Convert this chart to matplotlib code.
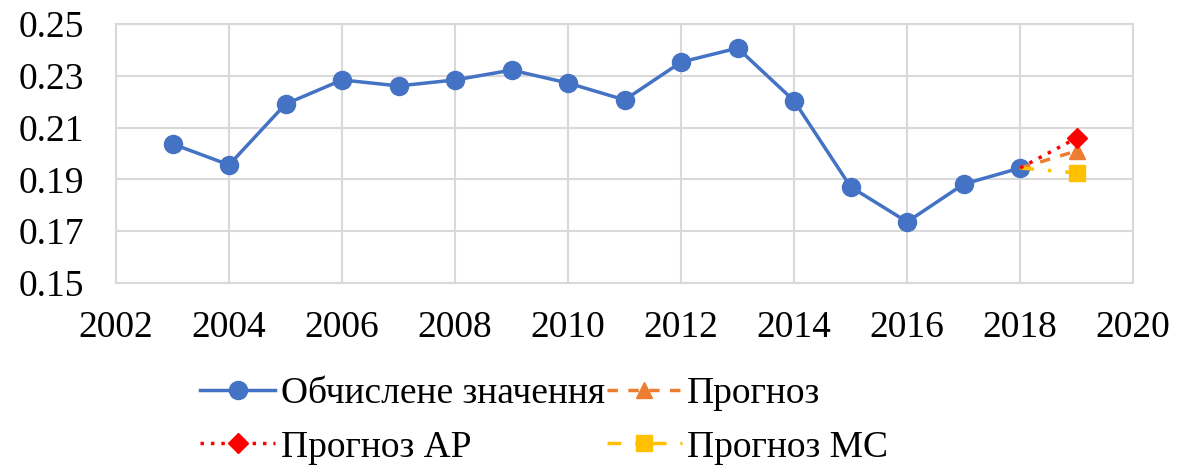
import matplotlib.pyplot as plt

# Computed values and forecasts
years = [2003, 2004, 2005, 2006, 2007, 2008, 2009, 2010, 2011, 2012,
         2013, 2014, 2015, 2016, 2017, 2018]
values = [0.2037, 0.1956, 0.2191, 0.2284, 0.2261, 0.2284, 0.2322, 0.2272,
          0.2207, 0.2353, 0.2407, 0.2203, 0.1871, 0.1736, 0.1882, 0.1944]
fc_years = [2018, 2019]
forecast = [0.1944, 0.2010]
forecast_ar = [0.1944, 0.2060]
forecast_mc = [0.1944, 0.1925]

labels = ["Обчислене значення", "Прогноз", "Прогноз АР", "Прогноз МС"]

plt.rcParams['font.family'] = ['Liberation Serif', 'DejaVu Serif']
plt.rcParams['font.size'] = 27

fig = plt.figure(figsize=(11.78, 4.68), dpi=100)
ax = fig.add_axes([0.0985, 0.3953, 0.8635, 0.5534])

l1, = ax.plot(years, values, color='#4472C4', lw=2.5, marker='o', ms=13, zorder=3)
l2, = ax.plot(fc_years, forecast, color='#ED7D31', lw=2.5, ls=(0, (3, 3)),
              marker='^', ms=12, markevery=[1], zorder=4)
l3, = ax.plot(fc_years, forecast_ar, color='#FF0000', lw=2.5, ls=(0, (1, 2)),
              marker='D', ms=10, markevery=[1], zorder=5)
l4, = ax.plot(fc_years, forecast_mc, color='#FFC000', lw=2.5, ls=(0, (4, 4, 1, 4)),
              marker='s', ms=12, markevery=[1], zorder=4)

ax.set_xlim(2002, 2020)
ax.set_ylim(0.15, 0.25)
ax.set_xticks(range(2002, 2021, 2))
ax.set_yticks([0.15, 0.17, 0.19, 0.21, 0.23, 0.25])
ax.set_yticklabels(['0.15', '0.17', '0.19', '0.21', '0.23', '0.25'])
ax.grid(True, color='#D9D9D9', lw=1.5)
ax.set_axisbelow(True)
for s in ax.spines.values():
    s.set_color('#D9D9D9')
    s.set_linewidth(1.5)
ax.tick_params(length=0)
ax.tick_params(axis='y', pad=23)
ax.tick_params(axis='x', pad=20)

# legend fills column by column, so order handles to read row by row
fig.legend([l1, l3, l2, l4], [labels[0], labels[2], labels[1], labels[3]],
           ncol=2, loc='upper left',
           bbox_to_anchor=(0.154, 0.235), frameon=False, borderpad=0,
           handlelength=2.0, handletextpad=0.15, columnspacing=0.05,
           labelspacing=0.5, fontsize=27)

fig.savefig('out.png', dpi=100)
